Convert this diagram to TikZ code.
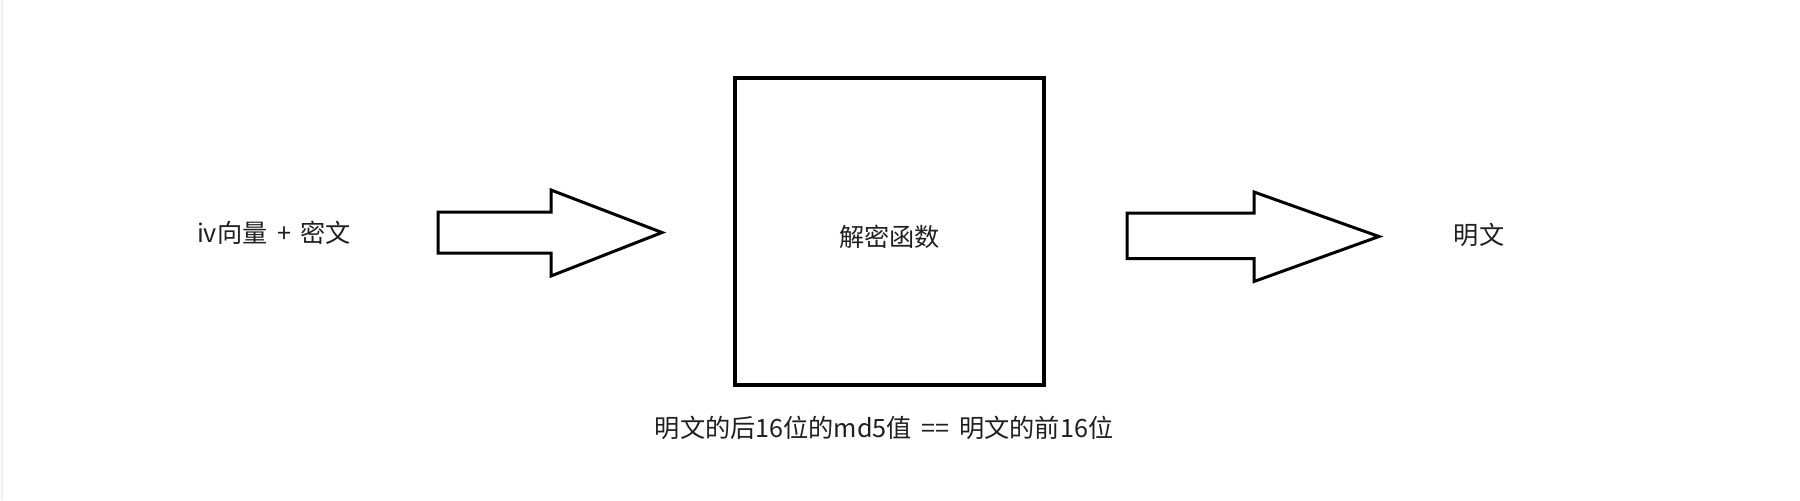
\documentclass[tikz,border=0pt]{standalone}
\usepackage{fontspec}
\setmainfont{Noto Sans CJK SC}
\newcommand{\gapsp}{\hspace{0.38em}}
\begin{document}
\begin{tikzpicture}[x=0.5pt,y=-0.5pt,
  lbl/.style={font=\fontsize{12.6}{15}\selectfont, inner sep=0pt, text=black!88},
  fnbox/.style={draw, line width=1.8pt, minimum width=154.5pt, minimum height=153.5pt, inner sep=0pt},
  blockarrow/.style={draw, line width=1.5pt, line join=miter, fill=white}]
\useasboundingbox (0,0) rectangle (1800,500);
\fill[white] (0,0) rectangle (1800,500);
\draw[black!6, line width=0.8pt] (2,0) -- (2,500);
% main box
\node[fnbox] (box) at (889.5,231.5) {};
\node[lbl] (fn) at (889.5,237) {解密函数};
% texts
\node[lbl] (in) at (274,233) {iv向量\gapsp{}+\gapsp{}密文};
\node[lbl] (out) at (1479,235) {明文};
\node[lbl] (cond) at (884,428) {明文的后16位的md5值\gapsp{}==\gapsp{}明文的前16位};
% block arrows
\coordinate (a1) at (438,232.5);
\coordinate (a2) at (1127,236.5);
\draw[blockarrow] (a1) ++(0,-20.5) -- ++(113,0) -- ++(0,-22) -- ++(111,42.5) -- ++(-111,43.5) -- ++(0,-23) -- ++(-113,0) -- cycle;
\draw[blockarrow] (a2) ++(0,-23.5) -- ++(127,0) -- ++(0,-21) -- ++(125,44.5) -- ++(-125,45) -- ++(0,-23) -- ++(-127,0) -- cycle;
\end{tikzpicture}
\end{document}
